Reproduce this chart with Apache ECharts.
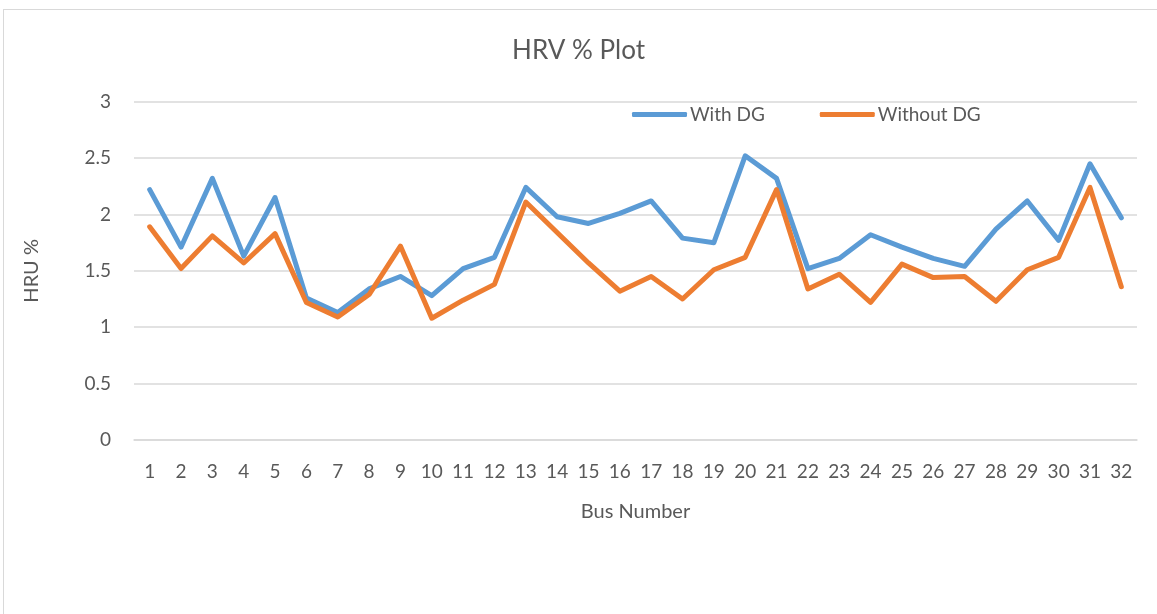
<!DOCTYPE html>
<html>
<head>
<meta charset="utf-8">
<script src="https://cdn.jsdelivr.net/npm/echarts@6/dist/echarts.min.js"></script>
<style>
  html, body { margin: 0; padding: 0; background: #fff; }
  #frame {
    position: absolute; left: 3px; top: 9px; width: 1170px; height: 620px;
    border: 1px solid #d9d9d9; box-sizing: border-box;
  }
  #chart { position: absolute; left: 0; top: 0; width: 1157px; height: 614px; }
</style>
</head>
<body>
<div id="frame"></div>
<div id="chart"></div>
<script>
  const busNumbers = ['1','2','3','4','5','6','7','8','9','10','11','12','13','14','15','16',
    '17','18','19','20','21','22','23','24','25','26','27','28','29','30','31','32'];
  const withDG = [2.22, 1.71, 2.32, 1.63, 2.15, 1.26, 1.13, 1.34, 1.45, 1.28, 1.52, 1.62, 2.24, 1.98, 1.92, 2.01,
    2.12, 1.79, 1.75, 2.52, 2.32, 1.52, 1.61, 1.82, 1.71, 1.61, 1.54, 1.87, 2.12, 1.77, 2.45, 1.97];
  const withoutDG = [1.89, 1.52, 1.81, 1.57, 1.83, 1.22, 1.09, 1.29, 1.72, 1.08, 1.24, 1.38, 2.11, 1.84, 1.57, 1.32,
    1.45, 1.25, 1.51, 1.62, 2.22, 1.34, 1.47, 1.22, 1.56, 1.44, 1.45, 1.23, 1.51, 1.62, 2.24, 1.36];

  const chart = echarts.init(document.getElementById('chart'));
  const font = 'Lato, "Open Sans", sans-serif';
  const grey = '#595959';

  const option = {
    backgroundColor: 'transparent',
    textStyle: { fontFamily: font },
    title: {
      text: 'HRV % Plot',
      left: 'center',
      top: 33,
      textStyle: { fontSize: 26, fontWeight: 'normal', color: grey, fontFamily: font },
    },
    legend: {
      left: 627,
      top: 100,
      icon: 'roundRect',
      itemWidth: 55,
      itemHeight: 5,
      itemGap: 55,
      textStyle: { fontSize: 19, color: grey, fontFamily: font, padding: [0, 0, 0, -2] },
      data: ['With DG', 'Without DG'],
    },
    grid: {
      left: 134,
      right: 20,
      top: 101.7,
      bottom: 174,
    },
    xAxis: {
      type: 'category',
      data: busNumbers,
      boundaryGap: true,
      name: 'Bus Number',
      nameLocation: 'middle',
      nameGap: 62,
      nameTextStyle: { fontSize: 20, color: grey, fontFamily: font },
      axisLine: { lineStyle: { color: '#d9d9d9', width: 1.5 } },
      axisTick: { show: false },
      axisLabel: { fontSize: 19, color: grey, margin: 22, fontFamily: font, interval: 0 },
    },
    yAxis: {
      type: 'value',
      min: 0,
      max: 3,
      interval: 0.5,
      name: 'HRU %',
      nameLocation: 'middle',
      nameGap: 92,
      nameRotate: 90,
      nameTextStyle: { fontSize: 20, color: grey, fontFamily: font },
      axisLine: { show: false },
      axisTick: { show: false },
      axisLabel: { fontSize: 19, color: grey, margin: 23, fontFamily: font },
      splitLine: { lineStyle: { color: '#d9d9d9', width: 1.5 } },
    },
    series: [
      {
        name: 'With DG',
        type: 'line',
        data: withDG,
        symbol: 'none',
        color: '#5B9BD5',
        lineStyle: { width: 5, color: '#5B9BD5', cap: 'round', join: 'round' },
      },
      {
        name: 'Without DG',
        type: 'line',
        data: withoutDG,
        symbol: 'none',
        color: '#ED7D31',
        lineStyle: { width: 5, color: '#ED7D31', cap: 'round', join: 'round' },
      },
    ],
  };

  chart.setOption(option);
</script>
</body>
</html>
